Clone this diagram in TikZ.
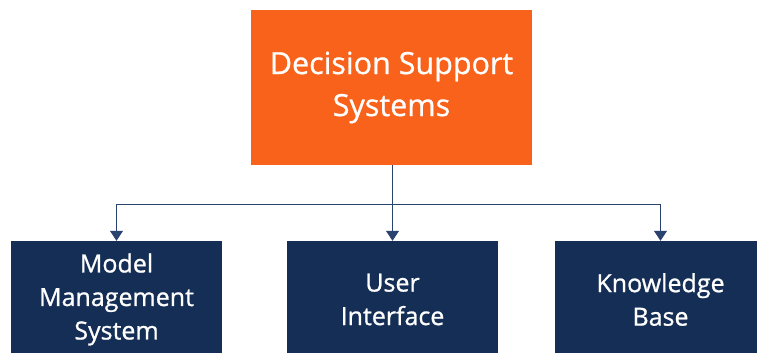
\documentclass[tikz,border=0pt]{standalone}
\usepackage{fontspec}
\setmainfont{Open Sans}[FakeBold=0.9]
\usetikzlibrary{arrows.meta}
\definecolor{dssorange}{HTML}{F9621A}
\definecolor{dssnavy}{HTML}{152E55}
\definecolor{dssline}{HTML}{2A4270}
\begin{document}
\begin{tikzpicture}[x=1pt,y=1pt,
  topbox/.style={fill=dssorange, draw=none, minimum width=281pt, minimum height=155pt,
    text=white, align=center, inner sep=0pt, font=\fontsize{30.5}{42}\selectfont},
  subbox/.style={fill=dssnavy, draw=none, minimum width=211pt, minimum height=117pt,
    text=white, align=center, inner sep=0pt, font=\fontsize{25}{33.5}\selectfont},
  conn/.style={draw=dssline, line width=0.9pt},
  arr/.style={conn, -{Triangle[width=13pt,length=10pt]}}]
\useasboundingbox (0,0) rectangle (757,353);
\clip (0,0) rectangle (757,353);
\fill[white] (0,0) rectangle (757,353);
\node[topbox] (dss) at (391.5,265.5) {Decision Support\\Systems};
\node[subbox] (mms) at (116.5,53.5) {Model\\Management\\System};
\node[subbox] (ui) at (392.5,53.5) {User\\Interface};
\node[subbox] (kb) at (660.5,53.5) {Knowledge\\Base};
\coordinate (j) at (392.5,149);
\draw[arr] (dss.south -| ui.north) -- (ui.north);
\draw[arr] (j) -| (mms.north);
\draw[arr] (j) -| (kb.north);
\end{tikzpicture}
\end{document}
